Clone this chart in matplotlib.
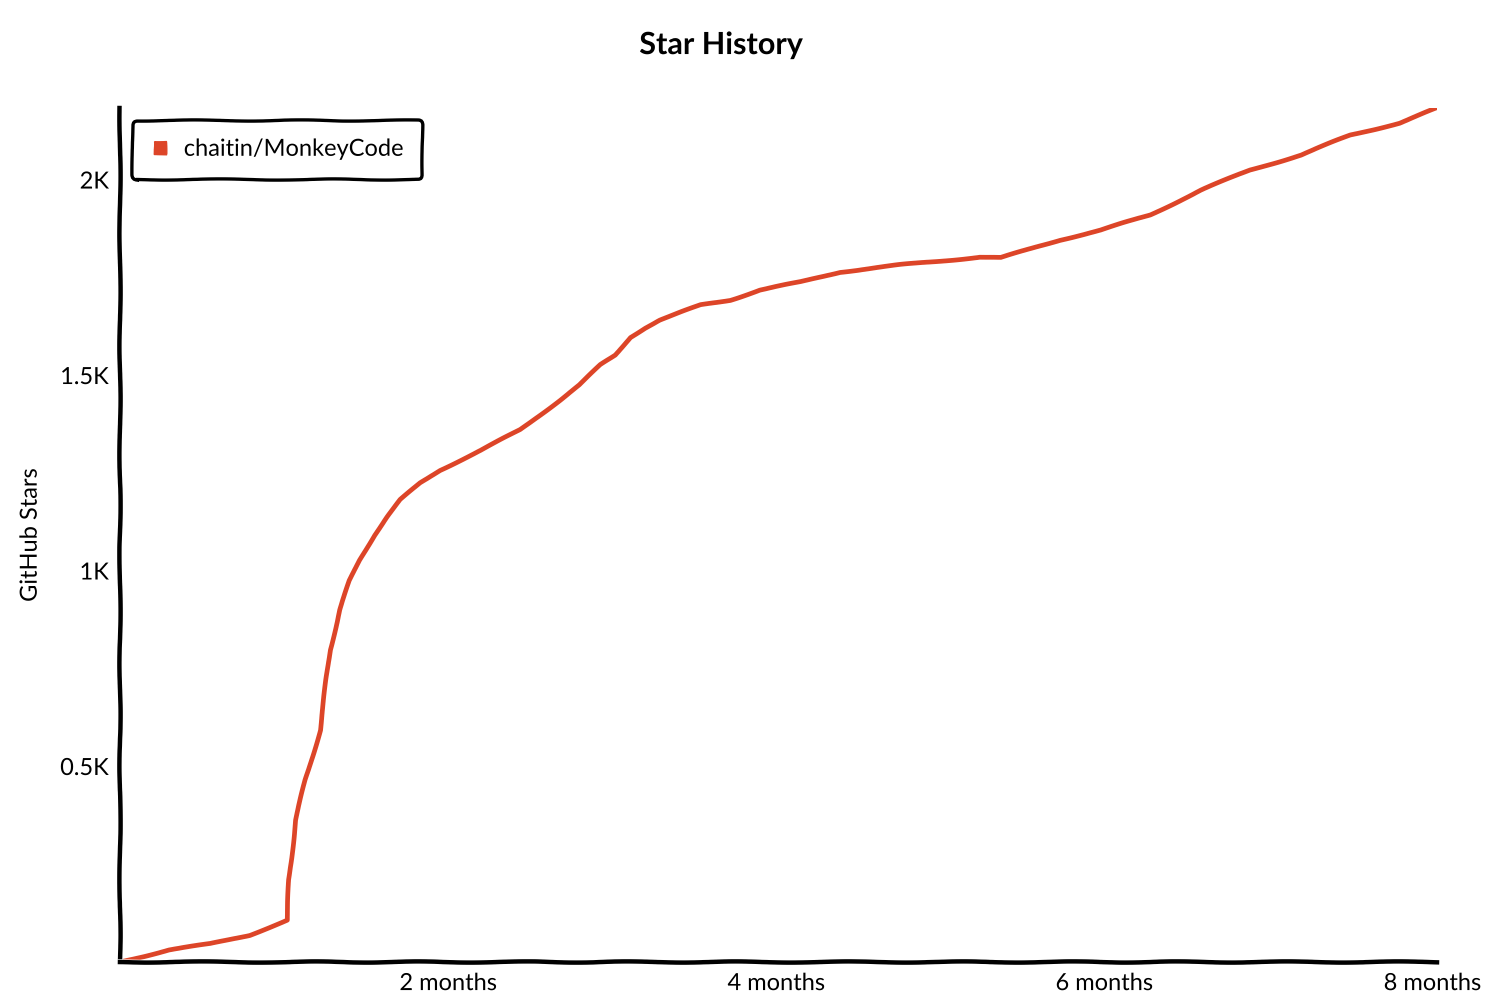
import matplotlib
matplotlib.use("Agg")
import matplotlib.pyplot as plt
from matplotlib.lines import Line2D
from matplotlib.ticker import FuncFormatter

# Star history of chaitin/MonkeyCode (months since first star, stars)
meses = [0, 0.30, 0.55, 0.79, 1.02, 1.03, 1.07, 1.13, 1.22, 1.28, 1.34, 1.40,
         1.46, 1.55, 1.63, 1.71, 1.83, 1.95, 2.20, 2.44, 2.68, 2.80, 2.93,
         3.02, 3.11, 3.20, 3.29, 3.54, 3.72, 3.90, 4.15, 4.39, 4.76, 5.24,
         5.37, 5.73, 5.98, 6.28, 6.59, 6.89, 7.20, 7.50, 7.80, 8.03]
estrelas = [0, 31, 46, 69, 107, 210, 363, 465, 593, 798, 900, 975,
            1028, 1092, 1140, 1182, 1225, 1258, 1309, 1361, 1437, 1476, 1527,
            1552, 1598, 1622, 1642, 1680, 1693, 1719, 1739, 1765, 1783, 1803,
            1801, 1847, 1872, 1911, 1974, 2026, 2064, 2115, 2146, 2184]

x_ticks = [2, 4, 6, 8]
x_labels = ["2 months", "4 months", "6 months", "8 months"]
y_ticks = [500, 1000, 1500, 2000]
repo = "chaitin/MonkeyCode"
cor = "#dd4528"

with plt.xkcd(scale=0.6, length=120, randomness=2):
    plt.rcParams['font.family'] = ['Lato', 'DejaVu Sans']
    fig = plt.figure(figsize=(15.02, 10.01), dpi=100)
    ax = fig.add_axes([0.0799, 0.039, 0.877, 0.853])

    ax.plot(meses, estrelas, color=cor, lw=3.4, label=repo)

    ax.set_xlim(0, 8.03)
    ax.set_ylim(0, 2184)
    ax.set_xticks(x_ticks)
    ax.set_xticklabels(x_labels)
    ax.set_yticks(y_ticks)
    ax.yaxis.set_major_formatter(FuncFormatter(lambda v, p: f"{v/1000:g}K"))
    ax.tick_params(length=0, labelsize=17, pad=8)

    for s in ["top", "right"]:
        ax.spines[s].set_visible(False)
    for s in ["left", "bottom"]:
        ax.spines[s].set_linewidth(3.2)
        ax.spines[s].set_color("black")

    ax.set_ylabel("GitHub Stars", fontsize=17, labelpad=14)

    handle = Line2D([], [], marker="s", markersize=9, color=cor, linestyle="none")
    leg = ax.legend([handle], [repo], loc="upper left", fontsize=17,
                    handlelength=0.8, handletextpad=0.6, borderpad=0.8,
                    frameon=True, fancybox=True, framealpha=1,
                    bbox_to_anchor=(0.0, 1.0))
    leg.get_frame().set_edgecolor("black")
    leg.get_frame().set_linewidth(2.4)

    fig.text(0.48, 0.955, "Star History", fontsize=22, fontweight="bold",
             ha="center", va="center")

    fig.savefig("out.png", dpi=100)
